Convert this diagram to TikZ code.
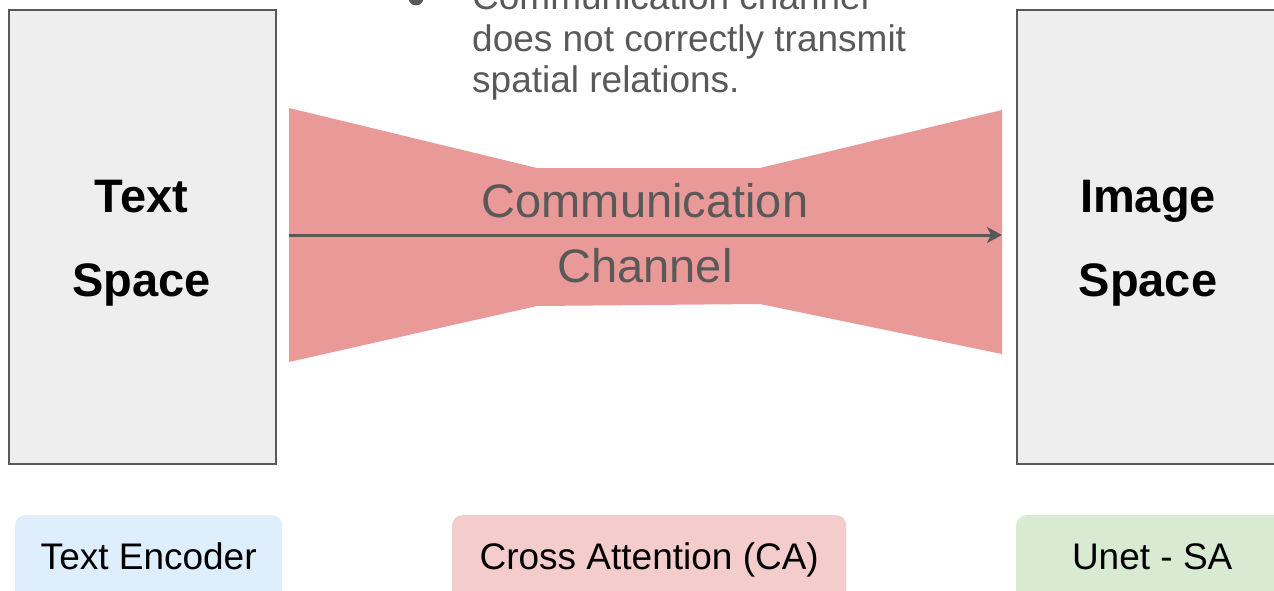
\documentclass[tikz,border=0pt]{standalone}
\usepackage{fontspec}
\setmainfont{Liberation Sans}
\usetikzlibrary{arrows.meta}

\definecolor{edgegray}{HTML}{595959}
\definecolor{spacefill}{HTML}{EEEEEE}
\definecolor{chanfill}{HTML}{EA9999}
\definecolor{encfill}{HTML}{DFEEFC}
\definecolor{cafill}{HTML}{F4CCCC}
\definecolor{unetfill}{HTML}{D9EAD3}

\tikzset{
  spacebox/.style={draw=edgegray, line width=2pt, fill=spacefill,
    minimum width=267pt, minimum height=454pt, anchor=north west, inner sep=0pt},
  spacelabel/.style={anchor=base, inner sep=0pt, text=black,
    font=\fontsize{47}{56}\selectfont\bfseries},
  chanlabel/.style={anchor=base, inner sep=0pt, text=edgegray,
    font=\fontsize{47}{56}\selectfont},
  notetext/.style={anchor=base west, inner sep=0pt, text=edgegray,
    font=\fontsize{37}{44}\selectfont},
  modulebox/.style={rounded corners=10pt, anchor=north west, inner sep=0pt,
    minimum height=110pt, text height=27pt, text depth=29pt, text=black,
    font=\fontsize{37}{44}\selectfont},
  flowarrow/.style={draw=edgegray, line width=3pt,
    -{Stealth[length=15pt,width=16pt,inset=4pt]}}
}

\begin{document}
\begin{tikzpicture}[x=1pt,y=-1pt]
\useasboundingbox (0,0) rectangle (1274,591);
\clip (0,0) rectangle (1274,591);

% text and image spaces
\node[spacebox] (textspace) at (8,9) {};
\node[spacebox] (imagespace) at (1016,9) {};
\node[spacelabel] (textlbl1) at (141.5,212) {Text};
\node[spacelabel] (textlbl2) at (141.5,296) {Space};
\node[spacelabel] (imglbl1) at (1148,212) {Image};
\node[spacelabel] (imglbl2) at (1148,296) {Space};

% communication channel (bow-tie)
\fill[chanfill] (289,108) -- (537,168) -- (760,168) -- (1002,110)
  -- (1002,354) -- (760,304) -- (537,306) -- (289,362) -- cycle;
\coordinate (chanin) at (289,235);
\coordinate (chanout) at (1002,235);
\draw[flowarrow] (chanin) -- (chanout);
\node[chanlabel] (chanlbl1) at (645,217) {Communication};
\node[chanlabel] (chanlbl2) at (645,282) {Channel};

% bullet note
\fill[edgegray] (416,-2) circle (7.5);
\node[notetext] (note1) at (472,10) {Communication channel};
\node[notetext] (note2) at (472,52) {does not correctly transmit};
\node[notetext] (note3) at (472,93) {spatial relations.};

% module boxes
\node[modulebox, fill=encfill, minimum width=267pt] (enc) at (15,515) {Text Encoder};
\node[modulebox, fill=cafill, minimum width=394pt] (ca) at (452,515) {Cross Attention (CA)};
\node[modulebox, fill=unetfill, minimum width=272pt] (unet) at (1016,515) {Unet - SA};
\end{tikzpicture}
\end{document}
